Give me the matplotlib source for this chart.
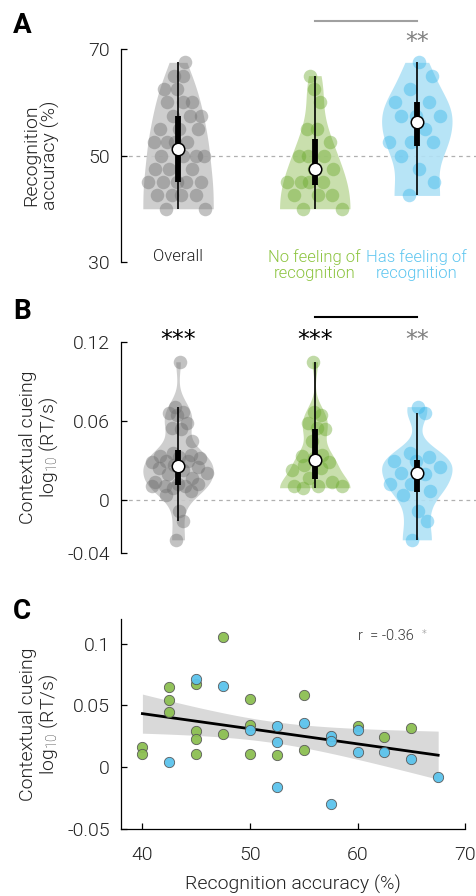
import matplotlib
matplotlib.use('Agg')
import matplotlib.pyplot as plt
import numpy as np

plt.rcParams['font.family'] = ['Roboto', 'DejaVu Sans']
plt.rcParams['font.weight'] = 300
plt.rcParams['axes.labelweight'] = 300
plt.rcParams['mathtext.fontset'] = 'custom'
plt.rcParams['mathtext.rm'] = 'Roboto:light'
plt.rcParams['mathtext.it'] = 'Roboto:light'

# per-subject data (recognition accuracy %, contextual cueing)
no_feel_acc = [40, 40, 42.5, 42.5, 42.5, 45, 45, 45, 45, 47.5, 47.5, 50, 50, 50,
               52.5, 55, 55, 60, 62.5, 65]
no_feel_cc = [0.0165, 0.011, 0.065, 0.054, 0.045, 0.067, 0.029, 0.023, 0.011, 0.105,
              0.0265, 0.055, 0.034, 0.011, 0.0095, 0.0585, 0.014, 0.0335, 0.0245, 0.032]
has_feel_acc = [42.5, 45, 47.5, 50, 52.5, 52.5, 52.5, 55, 57.5, 57.5, 57.5, 60, 60,
                62.5, 65, 67.5]
has_feel_cc = [0.004, 0.071, 0.066, 0.030, 0.033, 0.020, -0.016, 0.036, 0.025, 0.021,
               -0.030, 0.030, 0.012, 0.012, 0.007, -0.008]

group_names = ['Overall', 'No feeling of\nrecognition', 'Has feeling of\nrecognition']
r_text = 'r  = -0.36'

GRAY_FILL, GRAY_DOT = '#c9c9c9', '#6e6e6e'
GREEN_FILL, GREEN_DOT = '#c3dca4', '#6aa82c'
BLUE_FILL, BLUE_DOT = '#b0e1f6', '#35b5ea'
GREEN_TXT, BLUE_TXT = '#8cc43f', '#5ec6f0'
POS = [0.0, 1.34, 2.34]
HALF_W = 0.345
STAR_FONT = ['DejaVu Sans']


def kde_lower_reflect(vals, bw_fac):
    """Gaussian KDE, mirrored at the lowest value (flat, full-width violin base)."""
    lo = vals.min()
    bw = bw_fac * vals.std(ddof=1)
    pts = np.concatenate([vals, 2 * lo - vals])

    def f(y):
        y = np.atleast_1d(y)[:, None]
        return np.exp(-0.5 * ((y - pts[None, :]) / bw) ** 2).sum(axis=1)
    return f


def violin_panel(ax, groups, fills, dots, bw_fac, whisk_k):
    for i, vals in enumerate(groups):
        vals = np.asarray(vals, dtype=float)
        kde = kde_lower_reflect(vals, bw_fac)
        grid = np.linspace(vals.min(), vals.max(), 300)
        d = kde(grid)
        dmax = d.max()
        w = d / dmax * HALF_W
        ax.fill_betweenx(grid, POS[i] - w, POS[i] + w, color=fills[i], lw=0,
                         alpha=0.9, zorder=1)

        # spread the dots inside the violin outline (deterministic, no randomness)
        dens = kde(vals) / dmax
        order = np.argsort(vals, kind='stable')
        offs = np.zeros(len(vals))
        for k, idx in enumerate(order):
            u = ((k * 0.618034 + 0.31) % 1.0) * 2 - 1
            offs[idx] = u * 0.31 * dens[idx]
        ax.scatter(POS[i] + offs, vals, s=95, color=dots[i], alpha=0.42,
                   linewidths=0, zorder=2)

        q1, med, q3 = np.percentile(vals, [25, 50, 75])
        iqr = q3 - q1
        if whisk_k is None:
            lo, hi = vals.min(), vals.max()
        else:
            lo = vals[vals >= q1 - whisk_k * iqr].min()
            hi = vals[vals <= q3 + whisk_k * iqr].max()
        ax.plot([POS[i], POS[i]], [lo, hi], color='black', lw=1.2, zorder=3,
                solid_capstyle='butt')
        ax.plot([POS[i], POS[i]], [q1, q3], color='black', lw=4.2, zorder=3,
                solid_capstyle='butt')
        ax.plot(POS[i], med, 'o', ms=9, mfc='white', mec='black', mew=1.1, zorder=4)

    ax.set_xlim(-0.56, 2.92)
    for s in ['top', 'right', 'bottom']:
        ax.spines[s].set_visible(False)
    ax.set_xticks([])
    ax.tick_params(axis='y', direction='in', length=4, width=0.9, labelsize=14, pad=8,
                   labelcolor='#222222')
    ax.spines['left'].set_linewidth(0.9)


fig = plt.figure(figsize=(4.76, 8.96), dpi=100)

all_acc = no_feel_acc + has_feel_acc
all_cc = no_feel_cc + has_feel_cc
fills = [GRAY_FILL, GREEN_FILL, BLUE_FILL]
dots = [GRAY_DOT, GREEN_DOT, BLUE_DOT]

# ---------------- panel A ----------------
axA = fig.add_axes([0.254, 0.7076, 0.746, 0.2377])
axA.axhline(50, color='#b0b0b0', lw=0.9, ls=(0, (3, 3)), zorder=0)
violin_panel(axA, [all_acc, no_feel_acc, has_feel_acc], fills, dots, 0.5, None)
axA.set_ylim(30, 70)
axA.set_yticks([30, 50, 70])
axA.set_ylabel('Recognition\naccuracy (%)', fontsize=14, linespacing=1.0, color='#222222')
axA.yaxis.set_label_coords(-0.172, 0.5)
for i, (name, col) in enumerate(zip(group_names, ['#222222', GREEN_TXT, BLUE_TXT])):
    axA.text(POS[i], 32.4, name, ha='center', va='top', fontsize=12, color=col,
             linespacing=1.05)
axA.plot([POS[1], POS[2]], [75.3, 75.3], color='#a0a0a0', lw=1.5, clip_on=False)
axA.text(POS[2], 69.0, '**', ha='center', va='bottom', fontsize=17, color='#808080',
         family=STAR_FONT)
fig.text(0.027, 0.987, 'A', fontsize=20, fontweight='bold', va='top')

# ---------------- panel B ----------------
axB = fig.add_axes([0.254, 0.3828, 0.746, 0.2355])
axB.axhline(0, color='#b0b0b0', lw=0.9, ls=(0, (3, 3)), zorder=0)
violin_panel(axB, [all_cc, no_feel_cc, has_feel_cc], fills, dots, 0.36, 1.5)
axB.set_ylim(-0.04, 0.12)
axB.set_yticks([-0.04, 0, 0.06, 0.12])
axB.set_yticklabels(['-0.04', '0', '0.06', '0.12'])
axB.set_ylabel('Contextual cueing\nlog$_{10}$ (RT/s)', fontsize=14, linespacing=1.0,
               color='#222222')
axB.yaxis.set_label_coords(-0.172, 0.5)
axB.plot([POS[1], POS[2]], [0.139, 0.139], color='black', lw=1.5, clip_on=False)
for i, (st, col) in enumerate([('***', 'black'), ('***', 'black'), ('**', '#808080')]):
    axB.text(POS[i], 0.1125, st, ha='center', va='bottom', fontsize=17, color=col,
             family=STAR_FONT)
fig.text(0.027, 0.667, 'B', fontsize=20, fontweight='bold', va='top')

# ---------------- panel C ----------------
axC = fig.add_axes([0.254, 0.0748, 0.723, 0.2344])
x = np.asarray(all_acc, dtype=float)
y = np.asarray(all_cc, dtype=float)
slope, icpt = np.polyfit(x, y, 1)
xx = np.linspace(x.min(), x.max(), 100)
yy = icpt + slope * xx
n = len(x)
resid = y - (icpt + slope * x)
se = np.sqrt(np.sum(resid ** 2) / (n - 2))
ci = 2.03 * se * np.sqrt(1 / n + (xx - x.mean()) ** 2 / np.sum((x - x.mean()) ** 2))
axC.fill_between(xx, yy - ci, yy + ci, color='#d9d9d9', lw=0, zorder=1)
axC.plot(xx, yy, color='black', lw=2, zorder=3)
axC.scatter(no_feel_acc, no_feel_cc, s=55, color='#8cbf52', edgecolors='#555555',
            linewidths=0.6, alpha=0.95, zorder=4)
axC.scatter(has_feel_acc, has_feel_cc, s=55, color='#5cc3ec', edgecolors='#555555',
            linewidths=0.6, alpha=0.95, zorder=4)
axC.set_xlim(38, 70)
axC.set_ylim(-0.05, 0.12)
axC.set_xticks([40, 50, 60, 70])
axC.set_yticks([-0.05, 0, 0.05, 0.1])
axC.set_yticklabels(['-0.05', '0', '0.05', '0.1'])
for s in ['top', 'right']:
    axC.spines[s].set_visible(False)
for s in ['left', 'bottom']:
    axC.spines[s].set_linewidth(0.9)
axC.tick_params(direction='in', length=4, width=0.9, labelsize=14, labelcolor='#222222')
axC.tick_params(axis='y', pad=8)
axC.tick_params(axis='x', pad=12)
axC.set_xlabel('Recognition accuracy (%)', fontsize=14, labelpad=8, color='#222222')
axC.set_ylabel('Contextual cueing\nlog$_{10}$ (RT/s)', fontsize=14, linespacing=1.0,
               color='#222222')
axC.yaxis.set_label_coords(-0.177, 0.5)
axC.text(0.69, 0.92, r_text, transform=axC.transAxes, fontsize=10.5, color='#333333',
         va='center')
axC.text(0.875, 0.93, '*', transform=axC.transAxes, fontsize=7, color='#aaaaaa',
         va='center', family=STAR_FONT)
fig.text(0.027, 0.333, 'C', fontsize=20, fontweight='bold', va='top')

fig.savefig('out.png', dpi=100)
